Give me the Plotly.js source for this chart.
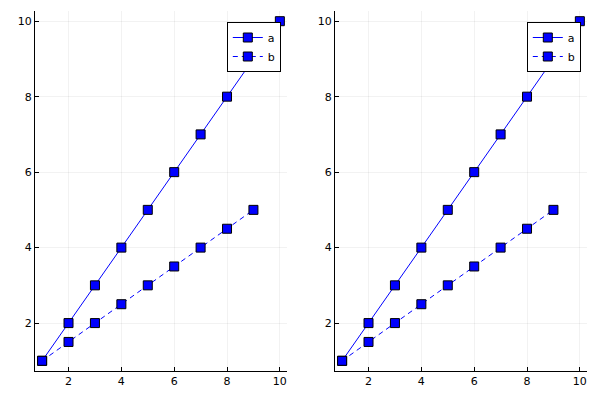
<!DOCTYPE html>
<html><head><meta charset="utf-8">
<script src="https://cdn.plot.ly/plotly-3.0.1.min.js"></script>
<style>body{margin:0;padding:0;}#p{width:600px;height:400px;}</style>
</head><body><div id="p"></div>
<script>
const xa = [1,2,3,4,5,6,7,8,9,10];
const ya = [1,2,3,4,5,6,7,8,9,10];
const xb = [1,2,3,4,5,6,7,8,9];
const yb = [1,1.5,2,2.5,3,3.5,4,4.5,5];
const tickVals = [2,4,6,8,10];
const seriesNames = ['a','b'];

const blue = '#0000FF';
const mk = {symbol:'square', size:9, color:blue, line:{color:'black', width:1}};
function mkTraces(xaxis, yaxis, leg){
  return [
    {x:xa, y:ya, name:seriesNames[0], mode:'lines+markers', line:{color:blue,width:1}, marker:mk, xaxis:xaxis, yaxis:yaxis, legend:leg},
    {x:xb, y:yb, name:seriesNames[1], mode:'lines+markers', line:{color:blue,width:1,dash:'5px,4px'}, marker:mk, xaxis:xaxis, yaxis:yaxis, legend:leg}
  ];
}
const data = mkTraces('x','y','legend').concat(mkTraces('x2','y2','legend2'));
function ax(domain, anchor){
  return {domain:domain, anchor:anchor, range:[0.73,10.27], tickvals:tickVals, ticktext:tickVals.map(String),
    showline:true, linecolor:'black', linewidth:1, mirror:false, ticks:'inside', ticklen:4, tickcolor:'black',
    showgrid:true, gridcolor:'rgba(0,0,0,0.1)', gridwidth:0.5, zeroline:false,
    tickfont:{family:'DejaVu Sans', size:11, color:'black'}};
}
const legStyle = {bgcolor:'white', bordercolor:'black', borderwidth:1, font:{family:'DejaVu Sans', size:11, color:'black'},
  xanchor:'right', yanchor:'top', y:0.945, tracegroupgap:0};
const layout = {
  width:600, height:400, margin:{l:0,r:0,t:0,b:0}, paper_bgcolor:'white', plot_bgcolor:'white',
  showlegend:true,
  xaxis: ax([0.0583,0.4783],'y'),
  yaxis: ax([0.0725,0.9725],'x'),
  xaxis2: ax([0.5583,0.9783],'y2'),
  yaxis2: ax([0.0725,0.9725],'x2'),
  legend: Object.assign({x:0.468}, legStyle),
  legend2: Object.assign({x:0.968}, legStyle)
};
Plotly.newPlot('p', data, layout, {displayModeBar:false, staticPlot:true});
</script></body></html>
